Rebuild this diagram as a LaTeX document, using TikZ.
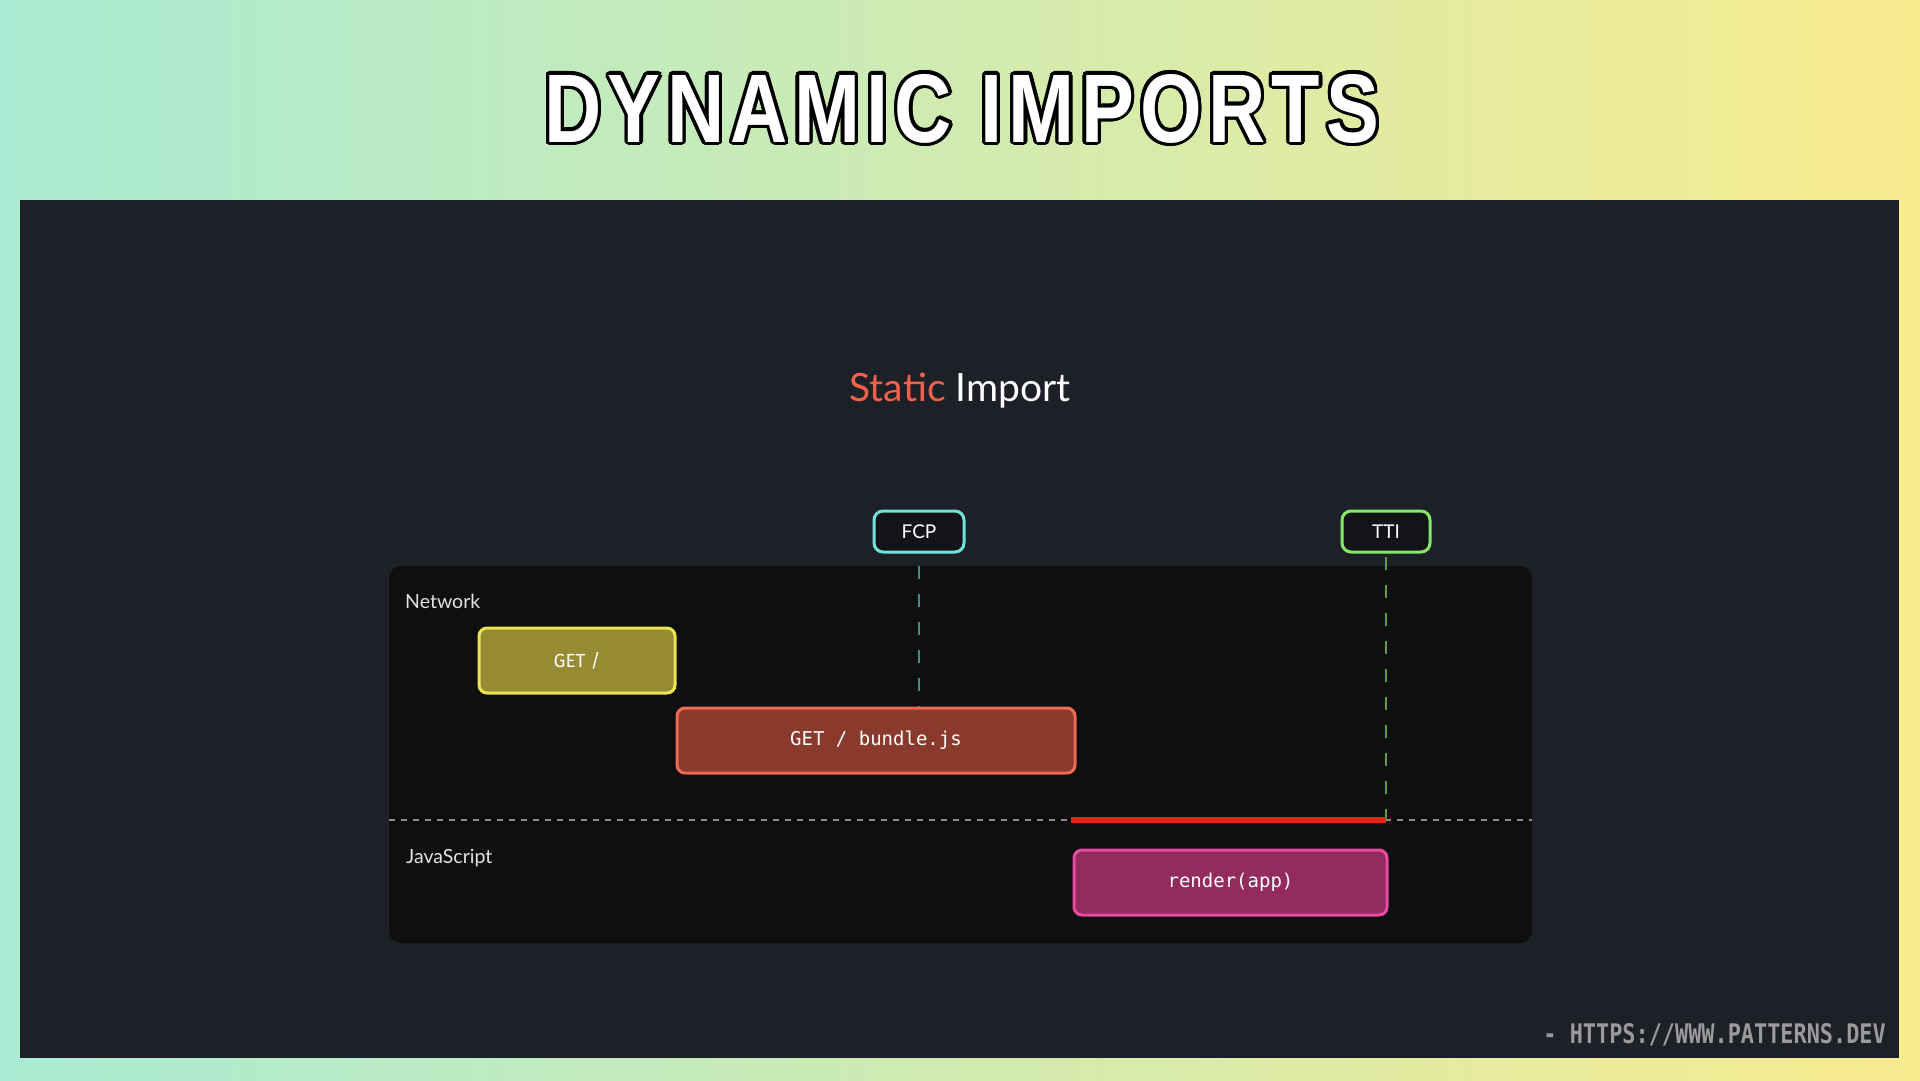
\documentclass[tikz,border=0pt]{standalone}
\usepackage{graphicx}
\usepackage{fontspec}
\setmainfont{Lato}
\newfontfamily\titlefont[LetterSpace=8]{Liberation Sans}
\newfontfamily\monofont{DejaVu Sans Mono}
\newfontfamily\condfont{Fira Sans}
\definecolor{bgL}{HTML}{A9EBD3}
\definecolor{bgR}{HTML}{F8EB8E}
\definecolor{panelc}{HTML}{1E2028}
\definecolor{tlpanel}{HTML}{0F0F10}
\definecolor{staticred}{HTML}{F0614C}
\definecolor{labelc}{HTML}{E2E2E2}
\definecolor{markfill}{HTML}{121418}
\definecolor{fcpc}{HTML}{6FE3D9}
\definecolor{ttic}{HTML}{86E86A}
\definecolor{fcpline}{HTML}{3F8F83}
\definecolor{ttiline}{HTML}{5F9A48}
\definecolor{getfill}{HTML}{968A33}
\definecolor{getdraw}{HTML}{EBE555}
\definecolor{bunfill}{HTML}{8A3A2D}
\definecolor{bundraw}{HTML}{EF6A55}
\definecolor{renfill}{HTML}{932B5F}
\definecolor{rendraw}{HTML}{EA4AA0}
\definecolor{sepc}{HTML}{8C8C8C}
\definecolor{redline}{HTML}{E3281B}
\definecolor{wmgray}{HTML}{9A9A9A}
\newcommand\mytitle{\resizebox{835pt}{68pt}{\titlefont\bfseries DYNAMIC IMPORTS}}
\begin{document}
\begin{tikzpicture}[x=1pt,y=-1pt,
  marker/.style={draw, line width=3, rounded corners=9, fill=markfill, minimum height=41, inner sep=0, text=white, font=\fontsize{19}{22}\selectfont},
  taskbox/.style={draw, line width=3, rounded corners=8, minimum height=65, inner sep=0, text=white, font=\monofont\fontsize{19}{22}\selectfont},
  lanelabel/.style={text=labelc, inner sep=0, font=\fontsize{19.5}{22}\selectfont},
  markline/.style={line width=2.5, dash pattern=on 13 off 15},
  sepline/.style={line width=2, sepc, dash pattern=on 6 off 6}]
\useasboundingbox (0,0) rectangle (1920,1080);
\shade[left color=bgL, right color=bgR] (0,0) rectangle (1920,1080);
\fill[panelc] (20,200) rectangle (1899,1058);
% title with outline
\foreach \a in {0,20,...,340}
  \node[anchor=base, text=black, inner sep=0] (titleo\a) at ([shift={(\a:3.2)}]962,142) {\mytitle};
\node[anchor=base, text=white, inner sep=0] (title) at (962,142) {\mytitle};
% subtitle
\node[anchor=base, text=white, inner sep=0, font=\fontsize{39}{46}\selectfont] (sub) at (960,401) {\textcolor{staticred}{Static} Import};
% timeline panel
\fill[tlpanel, rounded corners=12] (389,566) rectangle (1532,943);
% lane labels
\node[lanelabel, anchor=base west] (net) at (405,608) {Network};
\node[lanelabel, anchor=base west] (js) at (406,863) {JavaScript};
% markers
\node[marker, draw=fcpc, minimum width=90] (fcp) at (919,531.5) {FCP};
\node[marker, draw=ttic, minimum width=88] (tti) at (1386,531.5) {TTI};
% tasks
\node[taskbox, draw=getdraw, fill=getfill, minimum width=196, font=\condfont\fontsize{19}{22}\selectfont] (get) at (577,660.5) {GET /};
\node[taskbox, draw=bundraw, fill=bunfill, minimum width=398] (bundle) at (876,740.5) {GET / bundle.js};
\node[taskbox, draw=rendraw, fill=renfill, minimum width=313] (render) at (1230.5,882.5) {render(app)};
% separator and lines
\coordinate (sepL) at (389,820);
\coordinate (sepR) at (1532,820);
\coordinate (redL) at (1071,820);
\coordinate (fcptop) at (919,566);
\coordinate (ttitop) at (1386,557);
\draw[sepline] (sepL) -- (sepR);
\draw[markline, fcpline] (fcptop) -- (fcptop |- bundle.north);
\draw[markline, ttiline] (ttitop) -- (ttitop |- sepL) coordinate (redR);
\draw[line width=6, redline] (redL) -- (redR);
% watermark
\node[anchor=base east, text=wmgray, inner sep=0] (wm) at (1886,1043) {\scalebox{0.81}[1]{\monofont\bfseries\fontsize{27}{30}\selectfont - HTTPS://WWW.PATTERNS.DEV}};
\end{tikzpicture}
\end{document}
